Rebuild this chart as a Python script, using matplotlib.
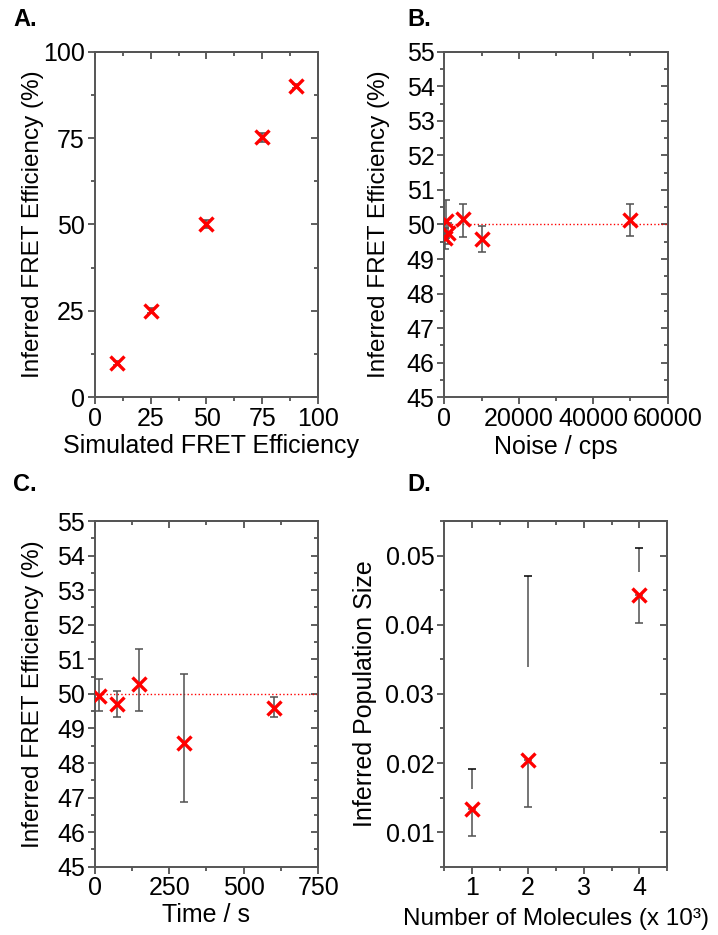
import matplotlib
matplotlib.use("Agg")
from matplotlib import pyplot as plt
from matplotlib.ticker import MultipleLocator, NullFormatter, FormatStrFormatter
import numpy as np

plt.rcParams["font.family"] = ["Liberation Sans", "DejaVu Sans"]
plt.rcParams["font.size"] = 18

# A. simulated vs inferred
sim_eff = [10, 25, 50, 75, 90]
inf_eff = [9.8, 25.1, 50.2, 75.2, 90.0]
inf_eff_err = [0.6, 0.8, 1.2, 1.3, 0.6]

# B. noise
noise = [250, 500, 1000, 5000, 10000, 50000]
noise_eff = [49.6, 50.1, 49.75, 50.15, 49.57, 50.13]
noise_lo = [49.3, 49.6, 49.45, 49.65, 49.2, 49.67]
noise_hi = [49.9, 50.7, 50.05, 50.6, 49.95, 50.6]

# C. time
time_s = [15, 75, 150, 300, 600]
time_eff = [49.95, 49.7, 50.3, 48.57, 49.6]
time_lo = [49.5, 49.33, 49.5, 46.87, 49.33]
time_hi = [50.42, 50.08, 51.3, 50.57, 49.9]

# D. number of molecules
n_mol = [1, 2, 4]
pop_size = [0.0134, 0.0205, 0.0443]
pop_lo = [0.0094, 0.0137, 0.0402]
pop_gap = [0.0163, 0.0339, 0.0477]   # upper error segment starts here
pop_hi = [0.0191, 0.0471, 0.0511]

true_eff = 50

fig = plt.figure(figsize=(7.18, 9.35), dpi=100)
axA = fig.add_axes([0.1319, 0.5751, 0.3114, 0.3696])
axB = fig.add_axes([0.6188, 0.5751, 0.3111, 0.3696])
axC = fig.add_axes([0.1319, 0.0730, 0.3114, 0.3697])
axD = fig.add_axes([0.6184, 0.0730, 0.3111, 0.3697])

mk = dict(marker="x", color="red", ms=10, mew=2.4, ls="none", zorder=3)
bar_col = "#505050"
cap_col = "black"
tick_col = "#333333"


def errbars(ax, x, y, lo, hi):
    # grey bar, black caps
    _, caps, _ = ax.errorbar(x, y, yerr=[np.subtract(y, lo), np.subtract(hi, y)],
                             fmt="none", ecolor=bar_col, elinewidth=1.1,
                             capsize=3, capthick=1.1, zorder=2)
    for c in caps:
        c.set_color(cap_col)


def style(ax, xmaj, xmin, ymaj, ymin):
    for s in ax.spines.values():
        s.set_color("#555555")
        s.set_linewidth(1.4)
    ax.xaxis.set_major_locator(MultipleLocator(xmaj))
    ax.xaxis.set_minor_locator(MultipleLocator(xmin))
    ax.yaxis.set_major_locator(MultipleLocator(ymaj))
    ax.yaxis.set_minor_locator(MultipleLocator(ymin))
    ax.tick_params(which="both", direction="out", color=tick_col, width=1.1,
                   top=False, right=False)
    ax.tick_params(which="major", length=5, pad=2)
    ax.tick_params(which="minor", length=3)
    # top and right ticks point inward
    top = ax.secondary_xaxis("top")
    top.xaxis.set_major_locator(MultipleLocator(xmaj))
    top.xaxis.set_minor_locator(MultipleLocator(xmin))
    top.xaxis.set_major_formatter(NullFormatter())
    right = ax.secondary_yaxis("right")
    right.yaxis.set_major_locator(MultipleLocator(ymaj))
    right.yaxis.set_minor_locator(MultipleLocator(ymin))
    right.yaxis.set_major_formatter(NullFormatter())
    for sec in (top, right):
        sec.tick_params(which="both", direction="in", color=tick_col, width=1.1)
        sec.tick_params(which="major", length=5)
        sec.tick_params(which="minor", length=3)
        for s in sec.spines.values():
            s.set_color("#555555")
            s.set_linewidth(1.4)


# A
errbars(axA, sim_eff, inf_eff, np.subtract(inf_eff, inf_eff_err), np.add(inf_eff, inf_eff_err))
axA.plot(sim_eff, inf_eff, **mk)
axA.set_xlim(0, 100)
axA.set_ylim(0, 100)
style(axA, 25, 12.5, 25, 12.5)
axA.set_xlabel("Simulated FRET Efficiency")
axA.set_ylabel("Inferred FRET Efficiency (%)", fontsize=17.5)
axA.xaxis.set_label_coords(0.52, -0.105)
axA.yaxis.set_label_coords(-0.225, 0.5)

# B
axB.axhline(true_eff, color="red", lw=1, ls=":", zorder=1)
errbars(axB, noise, noise_eff, noise_lo, noise_hi)
axB.plot(noise, noise_eff, **mk)
axB.set_xlim(0, 60000)
axB.set_ylim(45, 55)
style(axB, 20000, 10000, 1, 0.5)
axB.set_xlabel("Noise / cps")
axB.set_ylabel("Inferred FRET Efficiency (%)", fontsize=17.5)
axB.xaxis.set_label_coords(0.5, -0.11)
axB.yaxis.set_label_coords(-0.245, 0.5)

# C
axC.axhline(true_eff, color="red", lw=1, ls=":", zorder=1)
errbars(axC, time_s, time_eff, time_lo, time_hi)
axC.plot(time_s, time_eff, **mk)
axC.set_xlim(0, 750)
axC.set_ylim(45, 55)
style(axC, 250, 125, 1, 0.5)
axC.set_xlabel("Time / s")
axC.set_ylabel("Inferred FRET Efficiency (%)", fontsize=17.5)
axC.xaxis.set_label_coords(0.5, -0.105)
axC.yaxis.set_label_coords(-0.225, 0.5)

# D: lower error down from the marker, upper error as a separate segment
errbars(axD, n_mol, pop_size, pop_lo, pop_size)
axD.vlines(n_mol, pop_gap, pop_hi, color=bar_col, lw=1.1, zorder=2)
axD.plot(n_mol, pop_hi, ls="none", marker="_", ms=6, mew=1.1, color=cap_col)
axD.plot(n_mol, pop_size, **mk)
axD.set_xlim(0.5, 4.5)
axD.set_ylim(0.005, 0.055)
style(axD, 1, 0.5, 0.01, 0.005)
axD.yaxis.set_major_formatter(FormatStrFormatter("%.2f"))
axD.set_xlabel("Number of Molecules (x 10³)", fontsize=17.5)
axD.set_ylabel("Inferred Population Size")
axD.xaxis.set_label_coords(0.5, -0.12)
axD.yaxis.set_label_coords(-0.30, 0.5)

for lab, x, y in [("A.", 13, 20), ("B.", 407, 20), ("C.", 13, 485), ("D.", 407, 485)]:
    fig.text(x / 718, 1 - y / 935, lab, fontsize=17, fontweight="bold", va="center")

fig.savefig("out.png", dpi=100)
